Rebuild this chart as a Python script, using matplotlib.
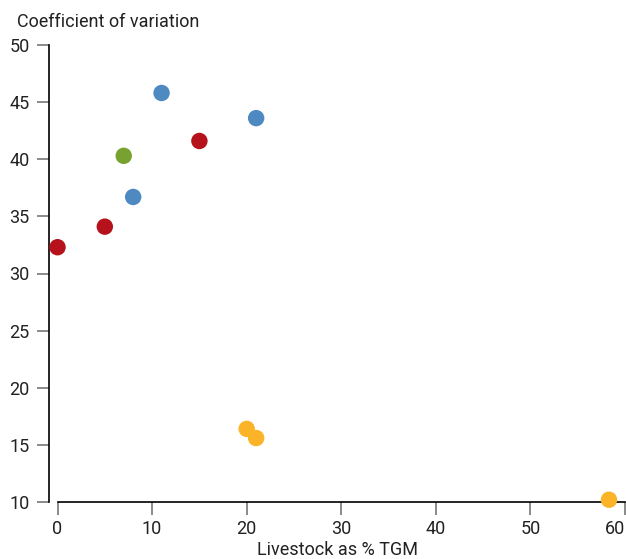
import matplotlib.pyplot as plt

# data
livestock = [11, 21, 8, 15, 5, 0, 7, 20, 21, 58.3]
coef_var = [45.8, 43.6, 36.7, 41.6, 34.1, 32.3, 40.3, 16.4, 15.6, 10.2]
groups = ["blue", "blue", "blue", "red", "red", "red", "green", "yellow", "yellow", "yellow"]

palette = {"blue": "#4E8AC1", "red": "#B5121B", "green": "#78A22F", "yellow": "#FBB427"}

plt.rcParams['font.family'] = ['Roboto', 'DejaVu Sans']

fig = plt.figure(figsize=(6.26, 5.59), dpi=100)
ax = fig.add_axes([49 / 626, 1 - 502 / 559, 577 / 626, 457 / 559])

ax.scatter(livestock, coef_var, c=[palette[g] for g in groups], s=140,
           linewidths=0, clip_on=False, zorder=3)

ax.set_xlim(-0.9, 60.1)
ax.set_ylim(10, 50)
ax.set_xticks(range(0, 61, 10))
ax.set_yticks(range(10, 51, 5))

for side in ["top", "right"]:
    ax.spines[side].set_visible(False)
ax.spines["bottom"].set_bounds(0, 60)
ax.spines["left"].set_linewidth(1.2)
ax.spines["bottom"].set_linewidth(1.2)

ax.tick_params(axis="both", length=9, width=1.2, color="#777777",
               labelsize=13, labelcolor="#222222")
ax.tick_params(axis="y", pad=5)
ax.tick_params(axis="x", pad=4)

# last label sits against the right edge, keep it inside
ax.get_xticklabels()[-1].set_horizontalalignment("right")

ax.set_xlabel("Livestock as % TGM", fontsize=13, color="#222222", labelpad=2)
fig.text(17 / 626, 1 - 22 / 559, "Coefficient of variation", fontsize=13,
         color="#222222", ha="left", va="center")

fig.savefig("out.png", dpi=100)
